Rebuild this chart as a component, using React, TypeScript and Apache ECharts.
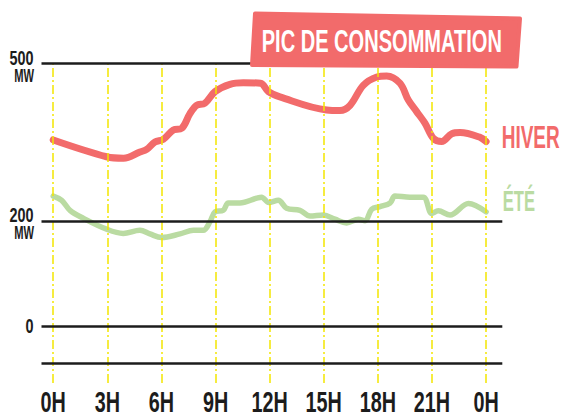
import React, { useEffect, useRef } from 'react';
import * as echarts from 'echarts';

const seriesNames = ['HIVER', 'ÉTÉ'];
const titleText = 'PIC DE CONSOMMATION';

const winterHours = [0, 2.96, 3.9, 4.81, 5.18, 5.64, 6.1, 6.66, 7.12, 7.58, 7.95, 8.41, 8.97, 9.8, 10.54, 11.5, 11.93, 12.57, 15.16, 15.9, 16.46, 17.19, 17.94, 18.49, 19.23, 19.69, 20.15, 20.61, 21.08, 21.54, 22.1, 22.56, 23.67, 24];
const winterValues = [354, 322, 319, 331, 336, 350, 355, 373, 376, 404, 420, 424, 446, 460, 463, 462, 446, 436, 411, 410, 420, 458, 474, 476, 462, 430, 408, 386, 357, 351, 366, 368, 359, 351];

const summerHours = [0, 0.47, 0.93, 1.66, 2.96, 3.88, 4.81, 5.36, 6.01, 7.03, 7.77, 8.32, 8.69, 8.97, 9.43, 9.71, 10.35, 11.28, 11.55, 11.95, 12.48, 12.94, 13.68, 14.24, 14.98, 15.62, 16.27, 16.92, 17.29, 17.66, 18.12, 18.68, 18.95, 19.78, 20.52, 20.99, 21.35, 22.0, 23.02, 24];
const summerValues = [247, 239, 220, 205, 184, 176, 182, 175, 168, 175, 182, 182, 198, 217, 220, 234, 234, 243, 245, 235, 239, 224, 220, 209, 211, 203, 196, 203, 200, 222, 227, 234, 247, 245, 245, 214, 219, 211, 233, 217];

const xTickHours = [0, 3, 6, 9, 12, 15, 18, 21, 24];
const xTickLabels = ['0H', '3H', '6H', '9H', '12H', '15H', '18H', '21H', '0H'];
const yTickValues = [0, 200, 500];
const yTickLabels = ['0', '200', '500'];
const yUnit = 'MW';
const gridLineValues = [500, 200, 0, -72];

const X_MIN = -0.65;
const X_MAX = 24.9;
const Y_MIN = -109;
const Y_MAX = 500;

const RED = '#F26B6B';
const GREEN = '#BADBA2';
const INK = '#1c1c1c';
const FONT = "'Liberation Sans', Arial, sans-serif";

export default function App() {
  const ref = useRef<HTMLDivElement>(null);

  useEffect(() => {
    if (!ref.current) return;
    const chart = echarts.init(ref.current, undefined, { renderer: 'svg' });

    const winterData = winterHours.map((h, i) => [h, winterValues[i]]);
    const summerData = summerHours.map((h, i) => [h, summerValues[i]]);

    const option: any = {
      animation: false,
      backgroundColor: '#ffffff',
      grid: { left: 41.5, right: 62.7, top: 63.3, bottom: 35 },
      xAxis: {
        type: 'value', min: X_MIN, max: X_MAX,
        axisLine: { show: false }, axisTick: { show: false },
        axisLabel: { show: false }, splitLine: { show: false },
      },
      yAxis: {
        type: 'value', min: Y_MIN, max: Y_MAX,
        axisLine: { show: false }, axisTick: { show: false },
        axisLabel: { show: false }, splitLine: { show: false },
      },
      series: [
        {
          type: 'line', data: [], z: 1, silent: true,
          markLine: {
            silent: true, symbol: ['none', 'none'], label: { show: false },
            lineStyle: { color: '#F3E600', width: 1.5, type: [9, 3, 2, 3] },
            data: xTickHours.map((h) => ({ xAxis: h })),
          },
        },
        {
          name: seriesNames[1], type: 'line', data: summerData, z: 3,
          smooth: 0.35, showSymbol: false, silent: true,
          lineStyle: { color: GREEN, width: 5.5, cap: 'round', join: 'round' },
        },
        {
          name: seriesNames[0], type: 'line', data: winterData, z: 3,
          smooth: 0.35, showSymbol: false, silent: true,
          lineStyle: { color: RED, width: 7, cap: 'round', join: 'round' },
        },
        {
          type: 'line', data: [], z: 4, silent: true,
          markLine: {
            silent: true, symbol: ['none', 'none'], label: { show: false },
            lineStyle: { color: INK, width: 2.6, type: 'solid' },
            data: gridLineValues.map((v) => ({ yAxis: v })),
          },
        },
        {
          type: 'custom', coordinateSystem: 'cartesian2d', silent: true, clip: false, z: 5,
          data: xTickHours.map((h) => [h, 0]),
          renderItem: (params: any, api: any) => {
            const i = params.dataIndex;
            const p = api.coord([xTickHours[i], Y_MIN]);
            return {
              type: 'text', x: p[0], y: p[1] + 18, scaleX: 0.66,
              style: {
                text: xTickLabels[i], fontSize: 30, fontWeight: 'bold', fontFamily: FONT,
                fill: INK, align: 'center', verticalAlign: 'middle',
              },
            };
          },
        },
        {
          type: 'custom', coordinateSystem: 'cartesian2d', silent: true, clip: false, z: 5,
          data: yTickValues.map((v) => [X_MIN, v]),
          renderItem: (params: any, api: any) => {
            const i = params.dataIndex;
            const p = api.coord([X_MIN, yTickValues[i]]);
            const num = {
              type: 'text', x: p[0] - 8, y: yTickValues[i] === 0 ? p[1] : p[1] - 5.5, scaleX: 0.74,
              style: {
                text: yTickLabels[i], fontSize: 19.5, fontWeight: 'bold', fontFamily: FONT,
                fill: INK, align: 'right', verticalAlign: 'middle',
              },
            };
            if (yTickValues[i] === 0) return num;
            return {
              type: 'group',
              children: [
                num,
                {
                  type: 'text', x: p[0] - 7.5, y: p[1] + 12, scaleX: 0.62,
                  style: {
                    text: yUnit, fontSize: 18, fontWeight: 'bold', fontFamily: FONT,
                    fill: INK, align: 'right', verticalAlign: 'middle',
                  },
                },
              ],
            };
          },
        },
      ],
      graphic: [
        {
          type: 'polygon', z: 10, silent: true,
          shape: { points: [[255, 13.5], [520, 18.5], [516.5, 66.5], [252, 65]] },
          style: { fill: RED, stroke: RED, lineWidth: 4, lineJoin: 'round' },
        },
        {
          type: 'text', z: 11, silent: true, x: 261.7, y: 41.7, scaleX: 0.627,
          style: {
            text: titleText, fontSize: 32, fontWeight: 'bold', fontFamily: FONT,
            fill: '#ffffff', align: 'left', verticalAlign: 'middle',
          },
        },
        {
          type: 'text', z: 11, silent: true, x: 501.7, y: 136.7, scaleX: 0.593,
          style: {
            text: seriesNames[0], fontSize: 32, fontWeight: 'bold', fontFamily: FONT,
            fill: RED, align: 'left', verticalAlign: 'middle',
          },
        },
        {
          type: 'text', z: 11, silent: true, x: 502.7, y: 200, scaleX: 0.553,
          style: {
            text: seriesNames[1], fontSize: 30, fontWeight: 'bold', fontFamily: FONT,
            fill: GREEN, align: 'left', verticalAlign: 'middle',
          },
        },
      ],
    };

    chart.setOption(option);
    return () => chart.dispose();
  }, []);

  return (
    <div
      ref={ref}
      style={{ position: 'absolute', left: 0, top: 0, width: 565, height: 418 }}
    />
  );
}
